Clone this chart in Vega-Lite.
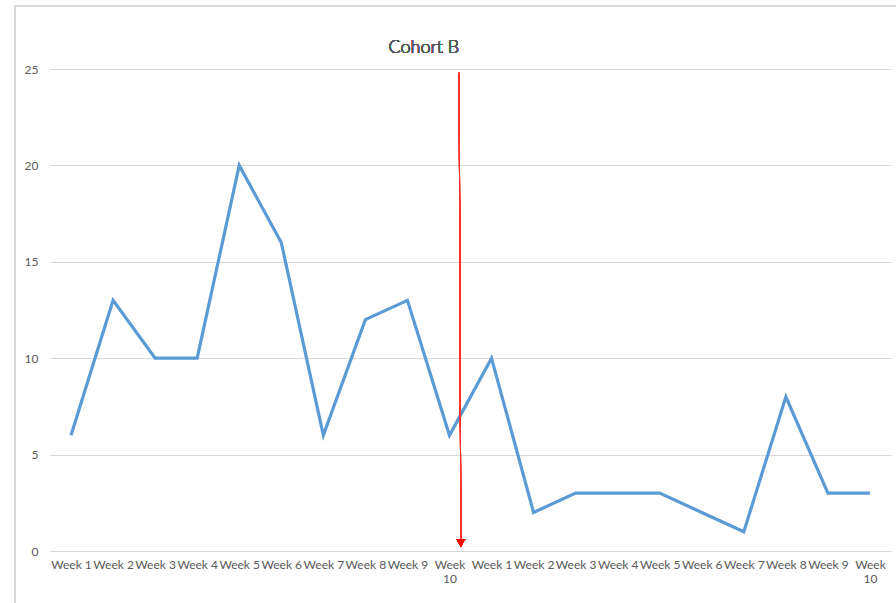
{
  "$schema": "https://vega.github.io/schema/vega-lite/v6.json",
  "width": 841,
  "height": 482,
  "autosize": "none",
  "padding": {"left": 50, "top": 69, "right": 5, "bottom": 52},
  "background": "white",
  "config": {
    "view": {"stroke": null},
    "font": "Lato",
    "axis": {"labelFont": "Lato", "labelColor": "#595959", "labelFontSize": 12}
  },
  "data": {
    "values": [
      {"slot": "A-Week 1", "value": 6},
      {"slot": "A-Week 2", "value": 13},
      {"slot": "A-Week 3", "value": 10},
      {"slot": "A-Week 4", "value": 10},
      {"slot": "A-Week 5", "value": 20},
      {"slot": "A-Week 6", "value": 16},
      {"slot": "A-Week 7", "value": 6},
      {"slot": "A-Week 8", "value": 12},
      {"slot": "A-Week 9", "value": 13},
      {"slot": "A-Week 10", "value": 6},
      {"slot": "B-Week 1", "value": 10},
      {"slot": "B-Week 2", "value": 2},
      {"slot": "B-Week 3", "value": 3},
      {"slot": "B-Week 4", "value": 3},
      {"slot": "B-Week 5", "value": 3},
      {"slot": "B-Week 6", "value": 2},
      {"slot": "B-Week 7", "value": 1},
      {"slot": "B-Week 8", "value": 8},
      {"slot": "B-Week 9", "value": 3},
      {"slot": "B-Week 10", "value": 3}
    ]
  },
  "resolve": {"scale": {"x": "independent"}, "axis": {"x": "independent"}},
  "layer": [
    {
      "mark": {"type": "line", "color": "#5B9BD5", "strokeWidth": 3.2, "strokeJoin": "miter"},
      "encoding": {
        "x": {
          "field": "slot",
          "type": "nominal",
          "sort": null,
          "scale": {"type": "point", "padding": 0.5},
          "axis": {
            "title": null,
            "labelAngle": 0,
            "ticks": false,
            "domain": false,
            "labelPadding": 8,
            "labelExpr": "slice(datum.label, 2) == 'Week 10' ? ['Week', '10'] : slice(datum.label, 2)"
          }
        },
        "y": {
          "field": "value",
          "type": "quantitative",
          "scale": {"domain": [0, 25], "nice": false},
          "axis": {
            "title": null,
            "values": [0, 5, 10, 15, 20, 25],
            "domain": false,
            "ticks": false,
            "labelPadding": 12,
            "gridColor": "#d9d9d9",
            "gridWidth": 1
          }
        }
      }
    },
    {
      "mark": {"type": "rule", "stroke": "#FF3030", "strokeWidth": 1, "clip": false},
      "encoding": {
        "x": {"datum": 9.73, "type": "quantitative", "scale": {"domain": [0, 20], "nice": false, "zero": false}, "axis": null},
        "x2": {"datum": 9.77},
        "y": {"datum": 24.8, "type": "quantitative"},
        "y2": {"datum": 0.5}
      }
    },
    {
      "mark": {"type": "point", "shape": "triangle-down", "filled": true, "fill": "#FF0000", "strokeWidth": 0, "opacity": 1, "size": 80},
      "encoding": {
        "x": {"datum": 9.77, "type": "quantitative", "scale": {"domain": [0, 20], "nice": false, "zero": false}, "axis": null},
        "y": {"datum": 0.42, "type": "quantitative"}
      }
    },
    {
      "mark": {"type": "text", "text": "Cohort B", "font": "Lato", "fontSize": 18, "fontWeight": 300, "fill": "#595959", "align": "center", "baseline": "middle", "clip": false},
      "encoding": {
        "x": {"datum": 8.89, "type": "quantitative", "scale": {"domain": [0, 20], "nice": false, "zero": false}, "axis": null},
        "y": {"datum": 26.1, "type": "quantitative"}
      }
    },
    {
      "mark": {"type": "rect", "filled": false, "fillOpacity": 0, "stroke": "#d9d9d9", "strokeWidth": 1.5, "clip": false},
      "encoding": {
        "x": {"datum": -0.83, "type": "quantitative", "scale": {"domain": [0, 20], "nice": false, "zero": false}, "axis": null},
        "x2": {"datum": 21},
        "y": {"datum": 28.27, "type": "quantitative"},
        "y2": {"datum": -5}
      }
    }
  ]
}
